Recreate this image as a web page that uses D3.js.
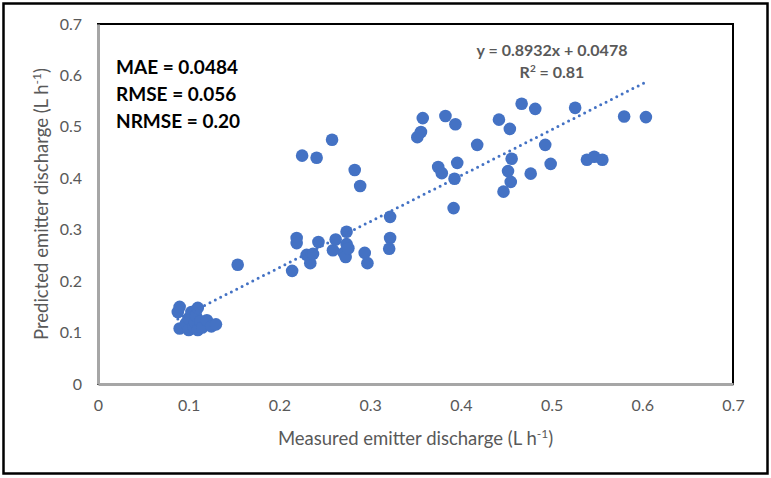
<!DOCTYPE html>
<html>
<head>
<meta charset="utf-8">
<script src="https://cdn.jsdelivr.net/npm/d3@7"></script>
<style>
  body { margin: 0; background: #fff; }
  text { font-family: Lato, "Open Sans", sans-serif; }
</style>
</head>
<body>
<script>
// measured vs predicted emitter discharge (L h-1)
var measured = [
  0.088, 0.090, 0.090, 0.097, 0.100, 0.100, 0.103, 0.105, 0.107, 0.108,
  0.110, 0.110, 0.113, 0.115, 0.120, 0.125, 0.130,
  0.154, 0.214, 0.219, 0.219, 0.225, 0.230, 0.234, 0.237, 0.241, 0.243,
  0.258, 0.259, 0.262, 0.271, 0.273, 0.274, 0.274, 0.276, 0.283, 0.289,
  0.294, 0.297, 0.322, 0.322, 0.321, 0.352, 0.356, 0.358, 0.375, 0.379,
  0.383, 0.392, 0.393, 0.394, 0.396, 0.418, 0.442, 0.447, 0.452, 0.454,
  0.455, 0.456, 0.467, 0.477, 0.482, 0.493, 0.499, 0.526, 0.539, 0.547,
  0.556, 0.580, 0.604
];
var predicted = [
  0.140, 0.150, 0.108, 0.118, 0.105, 0.128, 0.140, 0.112, 0.120, 0.133,
  0.148, 0.105, 0.122, 0.110, 0.124, 0.112, 0.116,
  0.232, 0.220, 0.284, 0.274, 0.444, 0.251, 0.235, 0.253, 0.440, 0.276,
  0.475, 0.260, 0.281, 0.255, 0.247, 0.296, 0.272, 0.264, 0.416, 0.385,
  0.255, 0.235, 0.325, 0.284, 0.263, 0.480, 0.490, 0.517, 0.422, 0.410,
  0.521, 0.342, 0.399, 0.505, 0.430, 0.465, 0.514, 0.374, 0.414, 0.496,
  0.393, 0.438, 0.545, 0.409, 0.535, 0.465, 0.428, 0.537, 0.436, 0.442,
  0.436, 0.520, 0.519
];
var tickValues = [0, 0.1, 0.2, 0.3, 0.4, 0.5, 0.6, 0.7];
var slope = 0.8932;
var intercept = 0.0478;
var stats = ["MAE = 0.0484", "RMSE = 0.056", "NRMSE = 0.20"];

var W = 771, H = 478;
var pLeft = 98, pRight = 733, pTop = 24, pBottom = 384;

var svg = d3.select("body").append("svg")
    .attr("width", W)
    .attr("height", H);

// outer frame
svg.append("rect")
    .attr("x", 3.5).attr("y", 3.5)
    .attr("width", 764).attr("height", 470)
    .attr("fill", "none")
    .attr("stroke", "#000")
    .attr("stroke-width", 2.5);

var x = d3.scaleLinear().domain([0, 0.7]).range([pLeft, pRight]);
var y = d3.scaleLinear().domain([0, 0.7]).range([pBottom, pTop]);

// plot area border (top/right black)
svg.append("rect")
    .attr("x", pLeft).attr("y", pTop)
    .attr("width", pRight - pLeft).attr("height", pBottom - pTop)
    .attr("fill", "none")
    .attr("stroke", "#000")
    .attr("stroke-width", 2);

var fmt = function(d) { return d === 0 ? "0" : d3.format(".1f")(d); };

var xAxis = svg.append("g")
    .attr("transform", "translate(0," + pBottom + ")")
    .call(d3.axisBottom(x).tickValues(tickValues).tickFormat(fmt).tickSize(0).tickPadding(16));
var yAxis = svg.append("g")
    .attr("transform", "translate(" + pLeft + ",0)")
    .call(d3.axisLeft(y).tickValues(tickValues).tickFormat(fmt).tickSize(0).tickPadding(16));

[xAxis, yAxis].forEach(function(a) {
    a.select(".domain").attr("stroke", "#a6a6a6").attr("stroke-width", 3);
    a.selectAll("text")
        .attr("fill", "#595959")
        .style("font-size", "16px")
        .style("font-family", "Lato, 'Open Sans', sans-serif");
});

// points
svg.append("g").selectAll("circle")
    .data(measured)
    .enter()
    .append("circle")
    .attr("cx", function(d) { return x(d); })
    .attr("cy", function(d, i) { return y(predicted[i]); })
    .attr("r", 6.3)
    .attr("fill", "#4472c4");

// dotted linear trendline
var ext = d3.extent(measured);
svg.append("line")
    .attr("x1", x(ext[0])).attr("y1", y(slope * ext[0] + intercept))
    .attr("x2", x(ext[1])).attr("y2", y(slope * ext[1] + intercept))
    .attr("stroke", "#4472c4")
    .attr("stroke-width", 3)
    .attr("stroke-linecap", "round")
    .attr("stroke-dasharray", "0 6");

// stats block
svg.append("g").selectAll("text")
    .data(stats)
    .enter()
    .append("text")
    .attr("x", 116)
    .attr("y", function(d, i) { return 74 + i * 27; })
    .attr("fill", "#000")
    .style("font-size", "19px")
    .style("font-weight", "bold")
    .text(function(d) { return d; });

// trendline equation
svg.append("text")
    .attr("x", 552).attr("y", 56)
    .attr("text-anchor", "middle")
    .attr("fill", "#595959")
    .style("font-size", "16px")
    .style("font-weight", "bold")
    .text("y = " + slope + "x + " + intercept);

var r2 = svg.append("text")
    .attr("x", 552).attr("y", 78)
    .attr("text-anchor", "middle")
    .attr("fill", "#595959")
    .style("font-size", "16px")
    .style("font-weight", "bold");
r2.append("tspan").text("R");
r2.append("tspan").attr("dy", -6).style("font-size", "10px").text("2");
r2.append("tspan").attr("dy", 6).text(" = 0.81");

// axis titles
function unitTitle(t, label) {
    t.append("tspan").text(label + " (L h");
    t.append("tspan").attr("dy", -7).style("font-size", "12px").text("-1");
    t.append("tspan").attr("dy", 7).text(")");
}

var xt = svg.append("text")
    .attr("x", (pLeft + pRight) / 2).attr("y", 445)
    .attr("text-anchor", "middle")
    .attr("fill", "#595959")
    .style("font-size", "18.5px");
unitTitle(xt, "Measured emitter discharge");

var yt = svg.append("text")
    .attr("transform", "translate(48," + (pTop + pBottom) / 2 + ") rotate(-90)")
    .attr("text-anchor", "middle")
    .attr("fill", "#595959")
    .style("font-size", "18.5px");
unitTitle(yt, "Predicted emitter discharge");
</script>
</body>
</html>
